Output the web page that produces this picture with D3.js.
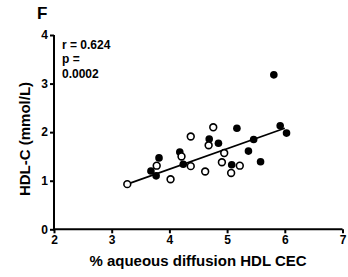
<!DOCTYPE html>
<html><head><meta charset="utf-8">
<script src="https://cdn.jsdelivr.net/npm/d3@7"></script>
<style>body{margin:0;background:#fff}svg{display:block}text{font-family:"Liberation Sans",Arial,sans-serif;font-weight:bold;fill:#000}</style>
</head><body><svg id="c" width="348" height="277"></svg>
<script>
const openX = [3.27,3.78,4.02,4.21,4.37,4.37,4.62,4.76,4.68,4.95,4.91,5.07,5.22];
const openY = [0.93,1.31,1.03,1.50,1.30,1.91,1.19,2.10,1.73,1.57,1.38,1.16,1.31];
const filledX = [3.82,3.68,3.77,4.18,4.24,4.69,4.85,5.17,5.08,5.37,5.46,5.58,5.81,5.92,6.03];
const filledY = [1.47,1.20,1.10,1.59,1.34,1.86,1.77,2.08,1.33,1.61,1.85,1.39,3.18,2.13,1.98];
const fitX = [3.27,6.0];
const fitY = [0.93,2.08];
const xTicks = [2,3,4,5,6,7];
const yTicks = [0,1,2,3,4];

const svg = d3.select("#c");
const x = d3.scaleLinear().domain([2,7]).range([54,342.5]);
const y = d3.scaleLinear().domain([0,4]).range([229.3,35]);

const xa = svg.append("g").attr("transform","translate(0,229.3)")
  .call(d3.axisBottom(x).tickValues(xTicks).tickFormat(d3.format("d")).tickSizeOuter(0).tickSize(4).tickPadding(2));
const ya = svg.append("g").attr("transform","translate(54,0)")
  .call(d3.axisLeft(y).tickValues(yTicks).tickFormat(d3.format("d")).tickSizeOuter(0).tickSize(4).tickPadding(2));
[xa,ya].forEach(a=>{
  a.select(".domain").attr("stroke","#000").attr("stroke-width",2);
  a.selectAll(".tick line").attr("stroke","#000").attr("stroke-width",2);
  a.selectAll(".tick text").style("font-family","Liberation Sans, Arial, sans-serif").style("font-weight","bold").style("font-size","12px").attr("fill","#000");
});
// extend domain lines to cover corner
xa.select(".domain").attr("d",`M${x(2)-1},0H${x(7)}`);
ya.select(".domain").attr("d",`M0,${y(4)}V${y(0)+1}`);

svg.append("line").attr("x1",x(fitX[0])).attr("y1",y(fitY[0])).attr("x2",x(fitX[1])).attr("y2",y(fitY[1]))
  .attr("stroke","#000").attr("stroke-width",1.6);

svg.append("g").selectAll("circle").data(filledX.map((d,i)=>[d,filledY[i]])).join("circle")
  .attr("cx",d=>x(d[0])).attr("cy",d=>y(d[1])).attr("r",3.8).attr("fill","#000");
svg.append("g").selectAll("circle").data(openX.map((d,i)=>[d,openY[i]])).join("circle")
  .attr("cx",d=>x(d[0])).attr("cy",d=>y(d[1])).attr("r",3.4).attr("fill","#fff").attr("stroke","#000").attr("stroke-width",1.6);

svg.append("text").attr("x",37).attr("y",18.5).style("font-size","17px").text("F");
const ann = svg.append("text").style("font-size","12px");
ann.append("tspan").attr("x",62).attr("y",48.5).text("r = 0.624");
ann.append("tspan").attr("x",62).attr("y",63).text("p =");
ann.append("tspan").attr("x",62).attr("y",77.5).text("0.0002");

svg.append("text").attr("x",198).attr("y",266).attr("text-anchor","middle").style("font-size","15px").text("% aqueous diffusion HDL CEC");
svg.append("text").attr("transform","translate(30,139) rotate(-90)").attr("text-anchor","middle").style("font-size","15px").text("HDL-C (mmol/L)");
</script></body></html>
